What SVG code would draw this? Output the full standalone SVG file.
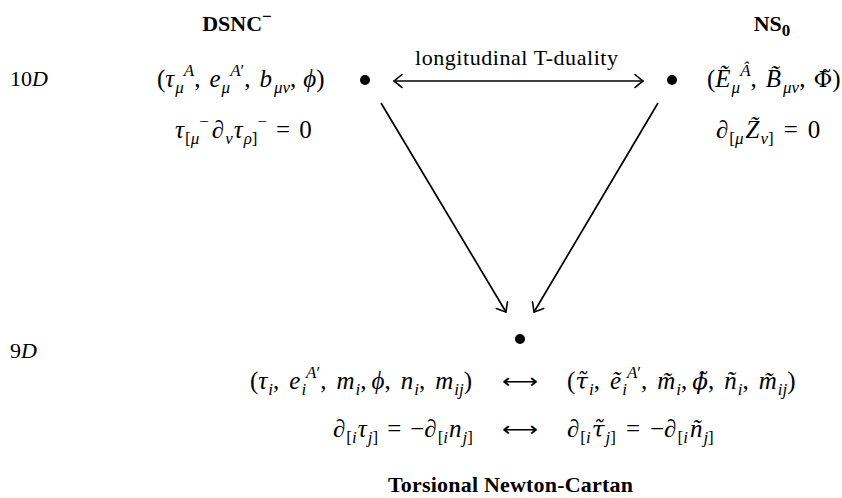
<svg xmlns="http://www.w3.org/2000/svg" width="842" height="498" viewBox="0 0 842 498">
<defs>
<style>
text{font-family:"Liberation Serif","DejaVu Serif",serif;font-size:25px;fill:#000}
.i{font-style:italic}
.s{font-size:17px}
.b{font-weight:bold;font-size:22px}
.dj{font-family:"DejaVu Serif",serif;font-size:23px}
.ar{font-family:"DejaVu Sans",sans-serif;font-size:20px}
.ln{stroke:#000;stroke-width:1.7;fill:none}
.dot{fill:#000}
</style>
<marker id="hk" viewBox="-10 -8 12 16" markerWidth="12" markerHeight="16" refX="0" refY="0" orient="auto-start-reverse" markerUnits="userSpaceOnUse">
<path d="M-8,-6.5 Q-2,-1.5 0,0 Q-2,1.5 -8,6.5" fill="none" stroke="#000" stroke-width="1.6" stroke-linecap="round"/>
</marker>
</defs>
<rect width="842" height="498" fill="#fff"/>

<g id="labels">
<text x="10" y="86" style="font-size:22px">10<tspan class="i">D</tspan></text>
<text x="10" y="358" style="font-size:22px">9<tspan class="i">D</tspan></text>
</g>

<g id="dsnc">
<text class="b" x="237" y="31" text-anchor="middle">DSNC<tspan class="s" dy="-9">−</tspan></text>
<text x="157" y="87">(<tspan class="i">τ</tspan><tspan class="s i" dy="6" dx="1">μ</tspan><tspan class="s i" dy="-17">A</tspan><tspan dy="11">,</tspan><tspan dx="9" class="i">e</tspan><tspan class="s i" dy="6" dx="1">μ</tspan><tspan class="s i" dy="-17">A</tspan><tspan class="s">′</tspan><tspan dy="11">,</tspan><tspan dx="9" class="i">b</tspan><tspan class="s i" dy="6" dx="2">μν</tspan><tspan dy="-6">,</tspan><tspan class="i" dx="7">ϕ</tspan>)</text>
<text x="175" y="138"><tspan class="i">τ</tspan><tspan class="s" dy="6" dx="1">[</tspan><tspan class="s i">μ</tspan><tspan class="s" dy="-17">−</tspan><tspan dy="11" dx="3">∂</tspan><tspan class="s i" dy="6" dx="1">ν</tspan><tspan class="i" dy="-6" dx="1">τ</tspan><tspan class="s i" dy="6" dx="1">ρ</tspan><tspan class="s">]</tspan><tspan class="s" dy="-17">−</tspan><tspan dy="11" dx="9">=</tspan><tspan dx="9">0</tspan></text>
<circle class="dot" cx="365" cy="80" r="5"/>
</g>

<g id="ns0">
<text class="b" x="772" y="31" text-anchor="middle">NS<tspan class="s" dy="5">0</tspan></text>
<text x="707" y="87">(<tspan class="i">Ẽ</tspan><tspan class="s i" dy="6" dx="1">μ</tspan><tspan class="s i" dy="-17">Â</tspan><tspan dy="11">,</tspan><tspan dx="9" class="i">B̃</tspan><tspan class="s i" dy="6" dx="2">μν</tspan><tspan dy="-6">,</tspan><tspan class="dj" dx="8">Φ̃</tspan>)</text>
<text x="716" y="138">∂<tspan class="s" dy="6" dx="1">[</tspan><tspan class="s i">μ</tspan><tspan class="i" dy="-6" dx="2">Z̃</tspan><tspan class="s i" dy="6" dx="1">ν</tspan><tspan class="s">]</tspan><tspan dy="-6" dx="10">=</tspan><tspan dx="10">0</tspan></text>
<circle class="dot" cx="672" cy="80" r="5"/>
</g>

<g id="tnc">
<circle class="dot" cx="520" cy="339" r="5"/>
<text x="250" y="389">(<tspan class="i">τ</tspan><tspan class="s i" dy="6" dx="1">i</tspan><tspan dy="-6">,</tspan><tspan dx="10" class="i">e</tspan><tspan class="s i" dy="6" dx="1">i</tspan><tspan class="s i" dy="-17">A</tspan><tspan class="s">′</tspan><tspan dy="11">,</tspan><tspan dx="10" class="i">m</tspan><tspan class="s i" dy="6" dx="1">i</tspan><tspan dy="-6">,</tspan><tspan class="i" dx="5">ϕ</tspan>,<tspan dx="10" class="i">n</tspan><tspan class="s i" dy="6" dx="1">i</tspan><tspan dy="-6">,</tspan><tspan dx="10" class="i">m</tspan><tspan class="s i" dy="6" dx="1">ij</tspan><tspan dy="-6">)</tspan></text>
<text class="ar" x="502" y="388" textLength="36" lengthAdjust="spacingAndGlyphs">⟷</text>
<text x="567" y="389">(<tspan class="i dj">τ̃</tspan><tspan class="s i" dy="6" dx="1">i</tspan><tspan dy="-6">,</tspan><tspan dx="10" class="i">ẽ</tspan><tspan class="s i" dy="6" dx="1">i</tspan><tspan class="s i" dy="-17">A</tspan><tspan class="s">′</tspan><tspan dy="11">,</tspan><tspan dx="10" class="i">m̃</tspan><tspan class="s i" dy="6" dx="1">i</tspan><tspan dy="-6">,</tspan><tspan class="i dj" dx="5">ϕ̃</tspan>,<tspan dx="10" class="i">ñ</tspan><tspan class="s i" dy="6" dx="1">i</tspan><tspan dy="-6">,</tspan><tspan dx="10" class="i">m̃</tspan><tspan class="s i" dy="6" dx="1">ij</tspan><tspan dy="-6">)</tspan></text>
<text x="473" y="437" text-anchor="end">∂<tspan class="s" dy="6" dx="1">[</tspan><tspan class="s i">i</tspan><tspan class="i" dy="-6" dx="1">τ</tspan><tspan class="s i" dy="6" dx="1">j</tspan><tspan class="s">]</tspan><tspan dy="-6" dx="9">=</tspan><tspan dx="9">−∂</tspan><tspan class="s" dy="6" dx="1">[</tspan><tspan class="s i">i</tspan><tspan class="i" dy="-6" dx="1">n</tspan><tspan class="s i" dy="6" dx="1">j</tspan><tspan class="s">]</tspan></text>
<text class="ar" x="502" y="436" textLength="36" lengthAdjust="spacingAndGlyphs">⟷</text>
<text x="567" y="437">∂<tspan class="s" dy="6" dx="1">[</tspan><tspan class="s i">i</tspan><tspan class="i dj" dy="-6" dx="1">τ̃</tspan><tspan class="s i" dy="6" dx="1">j</tspan><tspan class="s">]</tspan><tspan dy="-6" dx="10">=</tspan><tspan dx="10">−∂</tspan><tspan class="s" dy="6" dx="1">[</tspan><tspan class="s i">i</tspan><tspan class="i" dy="-6" dx="2">ñ</tspan><tspan class="s i" dy="6" dx="1">j</tspan><tspan class="s">]</tspan></text>
<text class="b" x="388" y="492" textLength="245" lengthAdjust="spacing">Torsional Newton-Cartan</text>
</g>

<g id="connectors">
<line class="ln" x1="394" y1="81" x2="643" y2="81" marker-start="url(#hk)" marker-end="url(#hk)"/>
<text x="415" y="65" style="font-size:22px" textLength="203" lengthAdjust="spacing">longitudinal T-duality</text>
<line class="ln" x1="381" y1="103" x2="506" y2="312" marker-end="url(#hk)"/>
<line class="ln" x1="658" y1="103" x2="534" y2="312" marker-end="url(#hk)"/>
</g>
</svg>
